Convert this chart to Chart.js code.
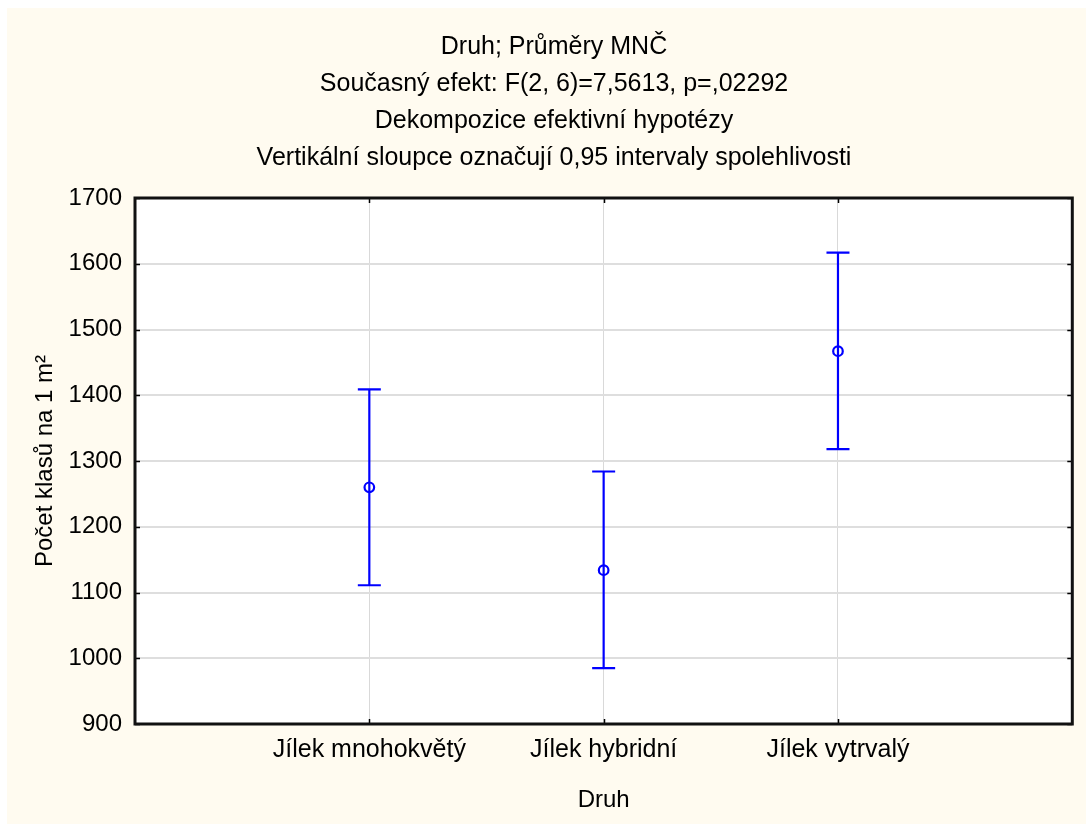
<!DOCTYPE html>
<html>
<head>
<meta charset="utf-8">
<script src="https://cdn.jsdelivr.net/npm/chart.js@4.4.1/dist/chart.umd.min.js"></script>
<style>
  html, body { margin: 0; padding: 0; background: #ffffff; }
  #wrap { position: absolute; left: 7px; top: 8px; width: 1079px; height: 816px; }
</style>
</head>
<body>
<div id="wrap"><canvas id="c" width="1079" height="816"></canvas></div>
<script>
// Group means with their 0.95 confidence limits
const categories = ['Jílek mnohokvětý', 'Jílek hybridní', 'Jílek vytrvalý'];
const means   = [1260, 1134, 1467];
const lower95 = [1111, 985, 1318];
const upper95 = [1409, 1284, 1617];

const yTicks = [900, 1000, 1100, 1200, 1300, 1400, 1500, 1600, 1700];
const titleLines = [
  'Druh; Průměry MNČ',
  'Současný efekt: F(2, 6)=7,5613, p=,02292',
  'Dekompozice efektivní hypotézy',
  'Vertikální sloupce označují 0,95 intervaly spolehlivosti'
];
const xTitle = 'Druh';
const yTitle = 'Počet klasů na 1 m²';

const FONT = '"Liberation Sans", Arial, sans-serif';
const BLUE = '#0000ff';

// category i sits at x = i + 1 on a 0..4 axis
const catX = categories.map((_, i) => i + 1);

// vertical whiskers, separated by gaps
const whiskerData = [];
catX.forEach((x, i) => {
  whiskerData.push({ x: x, y: lower95[i] }, { x: x, y: upper95[i] }, { x: x, y: null });
});
const capData = [];
catX.forEach((x, i) => {
  capData.push({ x: x, y: lower95[i] }, { x: x, y: upper95[i] });
});
const meanData = catX.map((x, i) => ({ x: x, y: means[i] }));

const backdrop = {
  id: 'backdrop',
  beforeDraw(chart) {
    const { ctx, chartArea: a } = chart;
    ctx.save();
    ctx.fillStyle = '#fffbf0';
    ctx.fillRect(0, 0, chart.width, chart.height);
    ctx.fillStyle = '#ffffff';
    ctx.fillRect(a.left, a.top, a.right - a.left, a.bottom - a.top);
    ctx.restore();
  }
};

const frame = {
  id: 'frame',
  afterDraw(chart) {
    const { ctx, chartArea: a, scales } = chart;
    ctx.save();
    ctx.strokeStyle = '#000000';
    ctx.lineWidth = 1.5;
    ctx.beginPath();
    // inward ticks on left/right
    yTicks.forEach(v => {
      const y = Math.round(scales.y.getPixelForValue(v)) + 0.5;
      ctx.moveTo(a.left, y); ctx.lineTo(a.left + 5, y);
      ctx.moveTo(a.right, y); ctx.lineTo(a.right - 5, y);
    });
    // inward ticks on top/bottom
    catX.forEach(v => {
      const x = Math.round(scales.x.getPixelForValue(v)) + 0.5;
      ctx.moveTo(x, a.top); ctx.lineTo(x, a.top + 5);
      ctx.moveTo(x, a.bottom); ctx.lineTo(x, a.bottom - 5);
    });
    ctx.stroke();
    ctx.lineWidth = 3;
    ctx.strokeStyle = '#111111';
    ctx.strokeRect(a.left, a.top, a.right - a.left, a.bottom - a.top);
    ctx.restore();
  }
};

new Chart(document.getElementById('c'), {
  type: 'scatter',
  data: {
    datasets: [
      {
        label: 'interval',
        data: whiskerData,
        showLine: true,
        spanGaps: false,
        borderColor: BLUE,
        borderWidth: 2.2,
        pointRadius: 0
      },
      {
        label: 'meze',
        data: capData,
        pointStyle: 'line',
        pointRadius: 11.5,
        pointBorderWidth: 2.2,
        pointBorderColor: BLUE,
        borderColor: BLUE
      },
      {
        label: 'průměr',
        data: meanData,
        pointStyle: 'circle',
        pointRadius: 4.8,
        pointBorderWidth: 2.2,
        pointBorderColor: BLUE,
        pointBackgroundColor: 'rgba(0,0,0,0)'
      }
    ]
  },
  options: {
    responsive: false,
    animation: false,
    devicePixelRatio: 1,
    layout: { padding: { left: 15, right: 0, top: 0, bottom: 0 } },
    plugins: {
      legend: { display: false },
      tooltip: { enabled: false },
      title: {
        display: true,
        text: titleLines,
        color: '#000000',
        font: { family: FONT, size: 25, weight: 'normal', lineHeight: 37 / 25 },
        padding: { top: 20.5, bottom: 21.5 }
      }
    },
    scales: {
      x: {
        type: 'linear',
        min: 0,
        max: 4,
        afterBuildTicks(scale) { scale.ticks = catX.map(v => ({ value: v })); },
        afterFit(scale) { scale.height = 100; },
        ticks: {
          color: '#000000',
          font: { family: FONT, size: 25 },
          padding: 11,
          maxRotation: 0,
          autoSkip: false,
          callback: v => categories[v - 1]
        },
        grid: { color: '#d9d9d9', lineWidth: 1, drawTicks: false },
        border: { display: false },
        title: {
          display: true,
          text: xTitle,
          color: '#000000',
          font: { family: FONT, size: 24 },
          padding: { top: 0, bottom: 9.5 }
        }
      },
      y: {
        min: 900,
        max: 1700,
        afterBuildTicks(scale) { scale.ticks = yTicks.map(v => ({ value: v })); },
        afterFit(scale) { scale.width = 113; },
        ticks: {
          color: '#000000',
          font: { family: FONT, size: 24 },
          padding: 13,
          callback: v => String(v)
        },
        grid: { color: '#dedede', lineWidth: 2, drawTicks: false },
        border: { display: false },
        title: {
          display: true,
          text: yTitle,
          color: '#000000',
          font: { family: FONT, size: 24 },
          padding: { top: 8.5, bottom: 0 }
        }
      },
      // empty strip on the right of the plot frame
      yRight: {
        position: 'right',
        min: 900,
        max: 1700,
        afterFit(scale) { scale.width = 13; },
        ticks: { display: false },
        grid: { display: false, drawTicks: false },
        border: { display: false }
      }
    }
  },
  plugins: [backdrop, frame]
});
</script>
</body>
</html>
